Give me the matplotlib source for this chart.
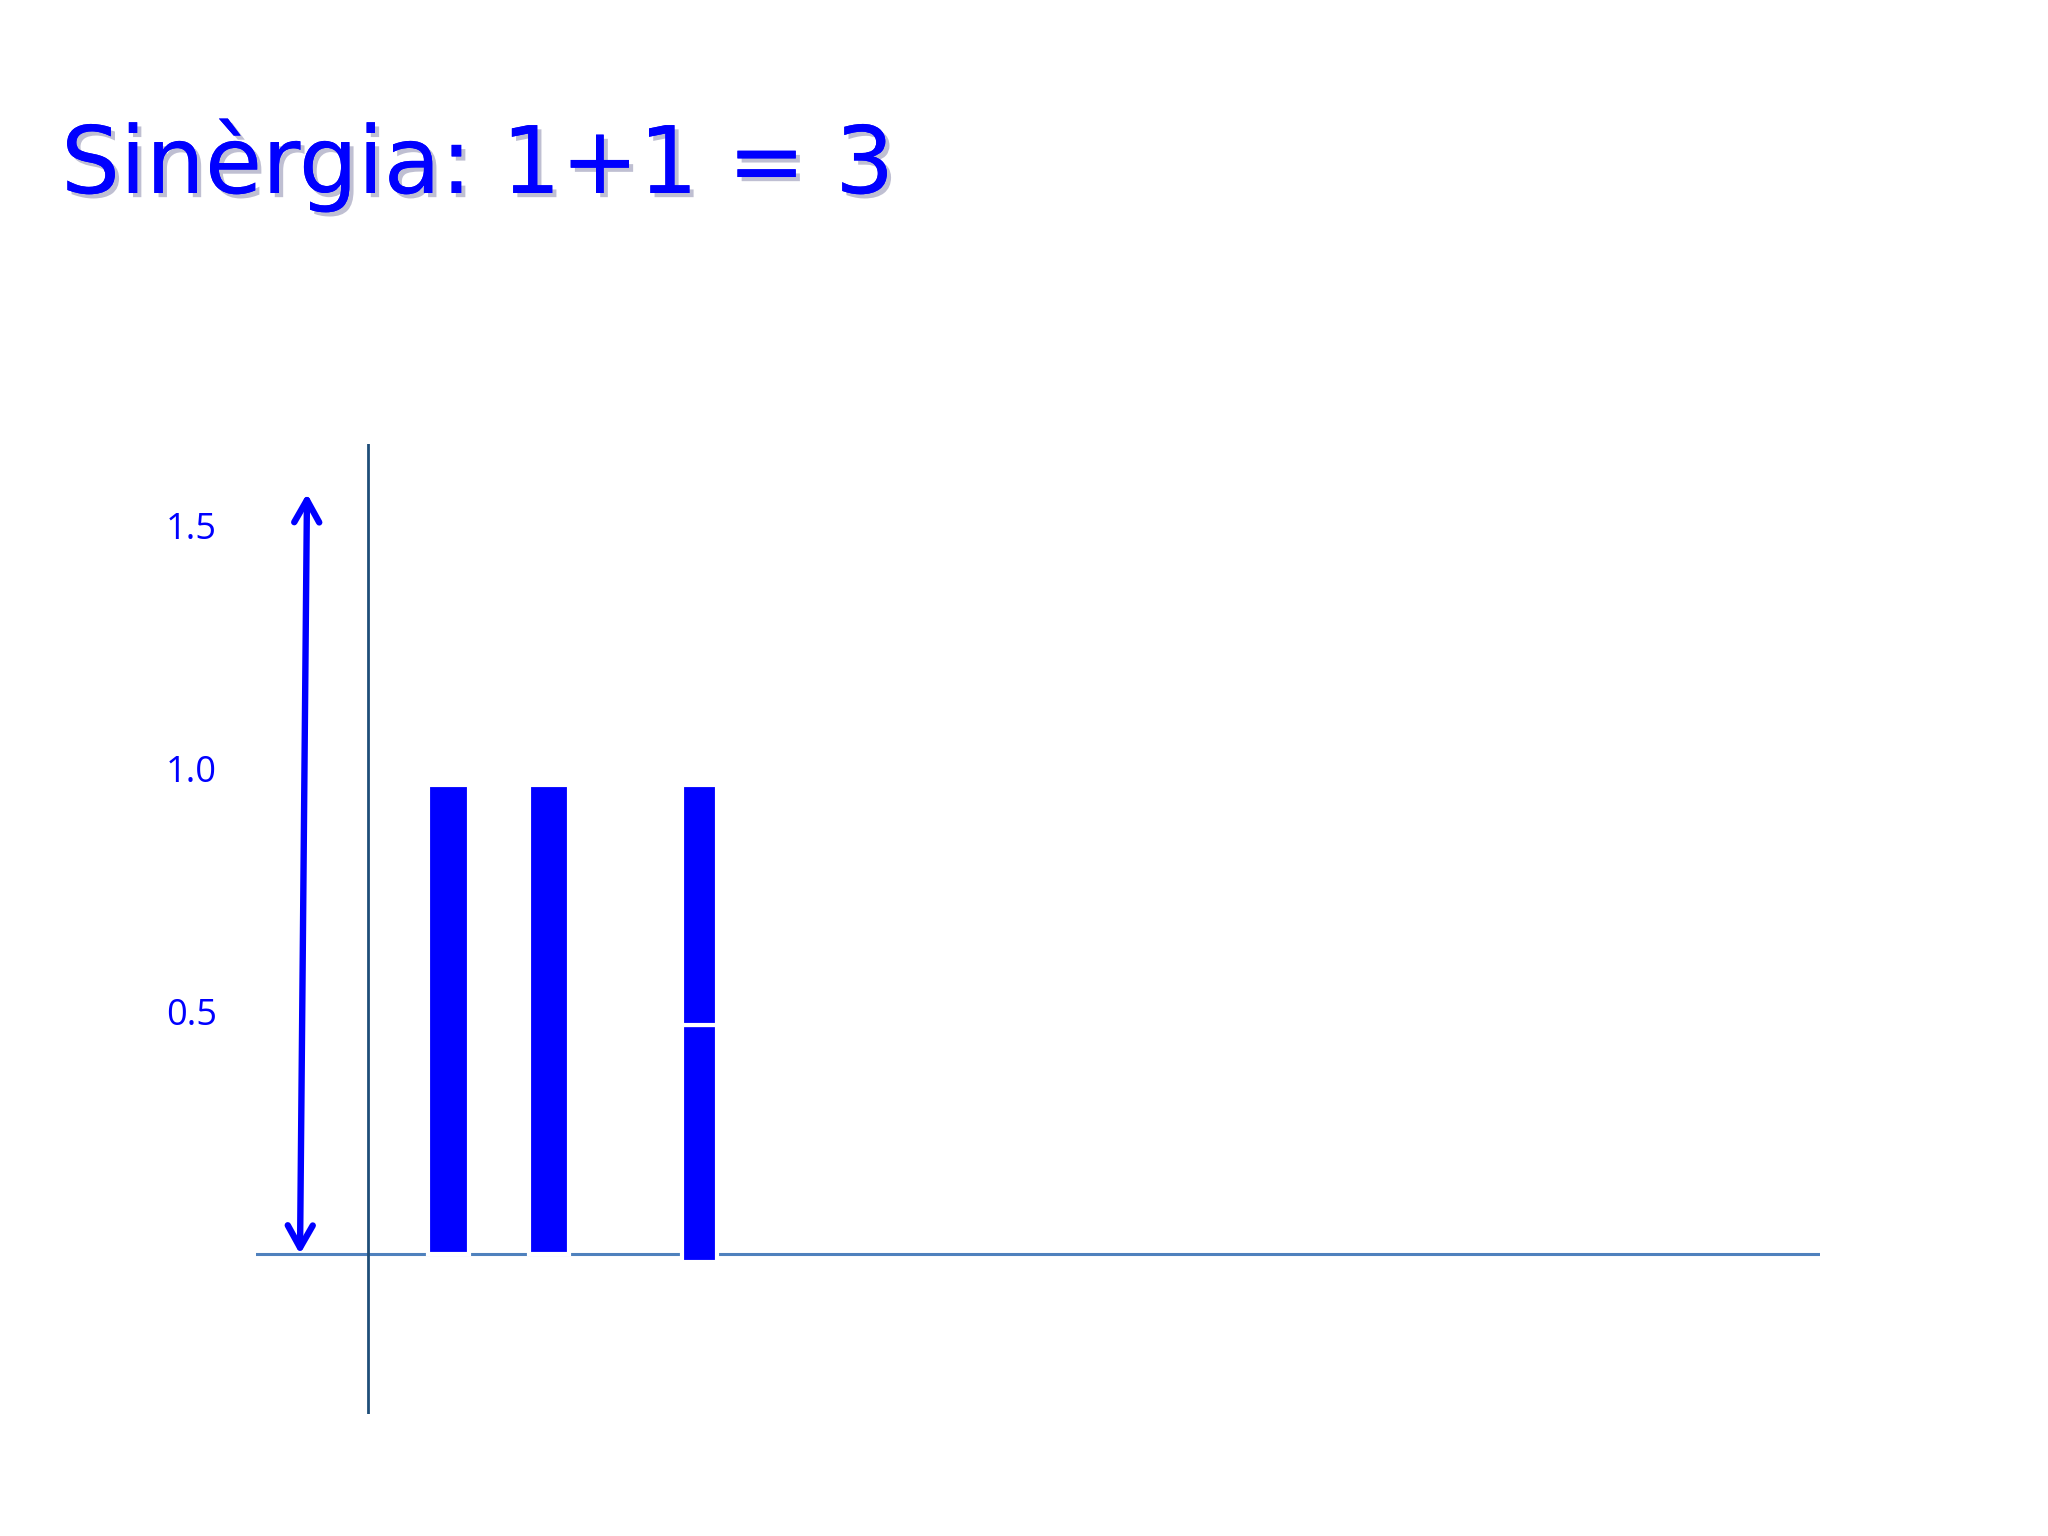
import matplotlib
matplotlib.use('Agg')
import matplotlib.pyplot as plt
import matplotlib.patheffects as pe
from matplotlib.patches import FancyArrowPatch

# Values
title = 'Sinèrgia: 1+1 = 3'
tick_vals = [0.5, 1.0, 1.5]
tick_labels = ['0.5', '1.0', '1.5']

# two single bars ("1" and "1")
single_x = [0.805, 1.81]
single_h = [0.965, 0.965]
single_w = [0.41, 0.40]

# stacked bar ("= 3"), two halves
stack_x = 3.315
stack_w = 0.35
stack_bottom = [-0.016, 0.472]
stack_h = [0.488, 0.493]

# double arrow on the left
arrow_x = [-0.68, -0.61]
arrow_y = [0.0, 1.565]

blue = '#0000ff'

fig = plt.figure(figsize=(20.48, 15.36), dpi=100)
fig.patch.set_facecolor('white')

ax = fig.add_axes([256 / 2048, 1 - 1414 / 1536, (1820 - 256) / 2048, 970 / 1536])
ax.set_xlim(-1.12, 14.52)
ax.set_ylim(-0.329, 1.667)
for s in ax.spines.values():
    s.set_visible(False)
ax.set_xticks([])
ax.set_yticks(tick_vals)
ax.set_yticklabels(tick_labels, fontsize=26, color=blue, family='Open Sans')
ax.tick_params(axis='y', length=0, pad=28)

# axis lines
ax.axhline(0, color='#4f81bd', lw=2.2, zorder=1)
ax.axvline(0, color='#1f4e79', lw=2.0, zorder=1)

# bars, white edges break the baseline
ax.bar(single_x, single_h, width=single_w, color=blue, edgecolor='white', lw=3, zorder=2)
ax.bar([stack_x] * 2, stack_h, bottom=stack_bottom, width=stack_w, color=blue,
       edgecolor='white', lw=3, zorder=2)

arr = FancyArrowPatch((arrow_x[0], arrow_y[0]), (arrow_x[1], arrow_y[1]),
                      arrowstyle='<->,head_length=0.8,head_width=0.45',
                      mutation_scale=20, color=blue, lw=4.6,
                      capstyle='round', joinstyle='round',
                      shrinkA=0, shrinkB=0, zorder=3)
ax.add_patch(arr)

fig.text(61 / 2048, 1 - 193 / 1536, title, fontsize=67, color=blue,
         family='DejaVu Sans', va='baseline', ha='left',
         path_effects=[pe.withSimplePatchShadow(offset=(3, -3), alpha=0.25), pe.Normal()])

fig.savefig('out.png', dpi=100, facecolor='white')
